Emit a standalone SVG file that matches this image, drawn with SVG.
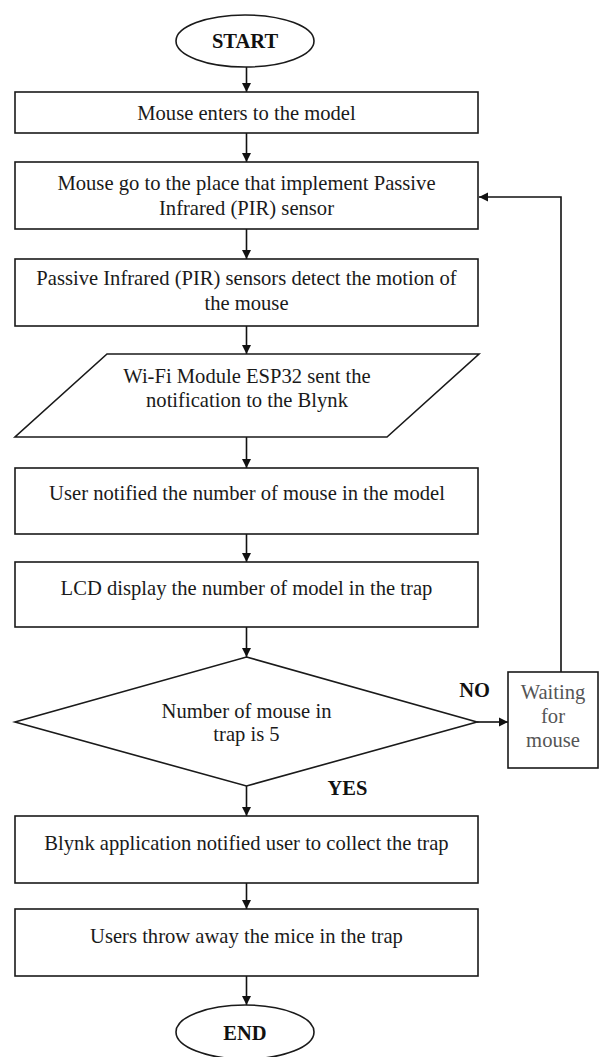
<svg xmlns="http://www.w3.org/2000/svg" width="600" height="1057" viewBox="0 0 600 1057">
  <defs>
    <marker id="arrow" viewBox="0 0 10 10" refX="10" refY="5" markerWidth="9" markerHeight="10" markerUnits="userSpaceOnUse" orient="auto">
      <path d="M0,0 L10,5 L0,10 Z" fill="#111"/>
    </marker>
    <style>
      .shape { fill: #fff; stroke: #1a1a1a; stroke-width: 1.6; }
      .txt { font-family: "Liberation Serif", "Times New Roman", serif; font-size: 20.6px; fill: #1a1a1a; text-anchor: middle; }
      .bold { font-family: "Liberation Serif", "Times New Roman", serif; font-size: 20.5px; font-weight: bold; fill: #111; text-anchor: middle; }
      .grey { fill: #555; }
      .conn { fill: none; stroke: #111; stroke-width: 1.6; marker-end: url(#arrow); }
    </style>
  </defs>
  <rect width="600" height="1057" fill="#fff"/>

  <!-- connectors -->
  <g id="connectors">
    <line class="conn" x1="246.5" y1="67" x2="246.5" y2="92"/>
    <line class="conn" x1="246.5" y1="133" x2="246.5" y2="162"/>
    <line class="conn" x1="246.5" y1="229" x2="246.5" y2="259"/>
    <line class="conn" x1="246.5" y1="326" x2="246.5" y2="354"/>
    <line class="conn" x1="246.5" y1="437" x2="246.5" y2="468"/>
    <line class="conn" x1="246.5" y1="534" x2="246.5" y2="562"/>
    <line class="conn" x1="246.5" y1="627" x2="246.5" y2="657"/>
    <line class="conn" x1="477" y1="722" x2="508" y2="722"/>
    <polyline class="conn" points="561,672 561,197 479,197"/>
    <line class="conn" x1="246.5" y1="786" x2="246.5" y2="816"/>
    <line class="conn" x1="246.5" y1="883" x2="246.5" y2="909"/>
    <line class="conn" x1="246.5" y1="976" x2="246.5" y2="1005"/>
    <text class="bold" x="474.5" y="697">NO</text>
    <text class="bold" x="347.5" y="795">YES</text>
  </g>

  <g id="start">
    <ellipse class="shape" cx="245" cy="41" rx="69" ry="26"/>
    <text class="bold" x="245" y="48">START</text>
  </g>

  <g id="enter">
    <rect class="shape" x="15" y="92" width="463" height="41"/>
    <text class="txt" x="246.5" y="120">Mouse enters to the model</text>
  </g>

  <g id="go-to-pir">
    <rect class="shape" x="15" y="162" width="463" height="67"/>
    <text class="txt" x="246.5" y="190">Mouse go to the place that implement Passive</text>
    <text class="txt" x="246.5" y="215">Infrared (PIR) sensor</text>
  </g>

  <g id="detect">
    <rect class="shape" x="15" y="259" width="463" height="67"/>
    <text class="txt" x="246.5" y="285">Passive Infrared (PIR) sensors detect the motion of</text>
    <text class="txt" x="246.5" y="310">the mouse</text>
  </g>

  <g id="notify-blynk">
    <polygon class="shape" points="107,354 479,354 387,437 15,437"/>
    <text class="txt" x="247" y="383">Wi-Fi Module ESP32 sent the</text>
    <text class="txt" x="247" y="407">notification to the Blynk</text>
  </g>

  <g id="user-notified">
    <rect class="shape" x="15" y="468" width="463" height="66"/>
    <text class="txt" x="247" y="500">User notified the number of mouse in the model</text>
  </g>

  <g id="lcd">
    <rect class="shape" x="15" y="562" width="463" height="65"/>
    <text class="txt" x="246.5" y="595">LCD display the number of model in the trap</text>
  </g>

  <g id="decision">
    <polygon class="shape" points="246.5,657 477,722 246.5,786 15,722"/>
    <text class="txt" x="246.5" y="718">Number of mouse in</text>
    <text class="txt" x="246.5" y="741">trap is 5</text>
  </g>

  <g id="waiting">
    <rect class="shape" x="508" y="672" width="90" height="96"/>
    <text class="txt grey" x="553" y="699">Waiting</text>
    <text class="txt grey" x="553" y="723">for</text>
    <text class="txt grey" x="553" y="747">mouse</text>
  </g>

  <g id="collect">
    <rect class="shape" x="15" y="816" width="463" height="67"/>
    <text class="txt" x="246.5" y="850">Blynk application notified user to collect the trap</text>
  </g>

  <g id="throw-away">
    <rect class="shape" x="15" y="909" width="463" height="67"/>
    <text class="txt" x="246.5" y="943">Users throw away the mice in the trap</text>
  </g>

  <g id="end">
    <ellipse class="shape" cx="245" cy="1032" rx="69" ry="27"/>
    <text class="bold" x="245" y="1040">END</text>
  </g>
</svg>
